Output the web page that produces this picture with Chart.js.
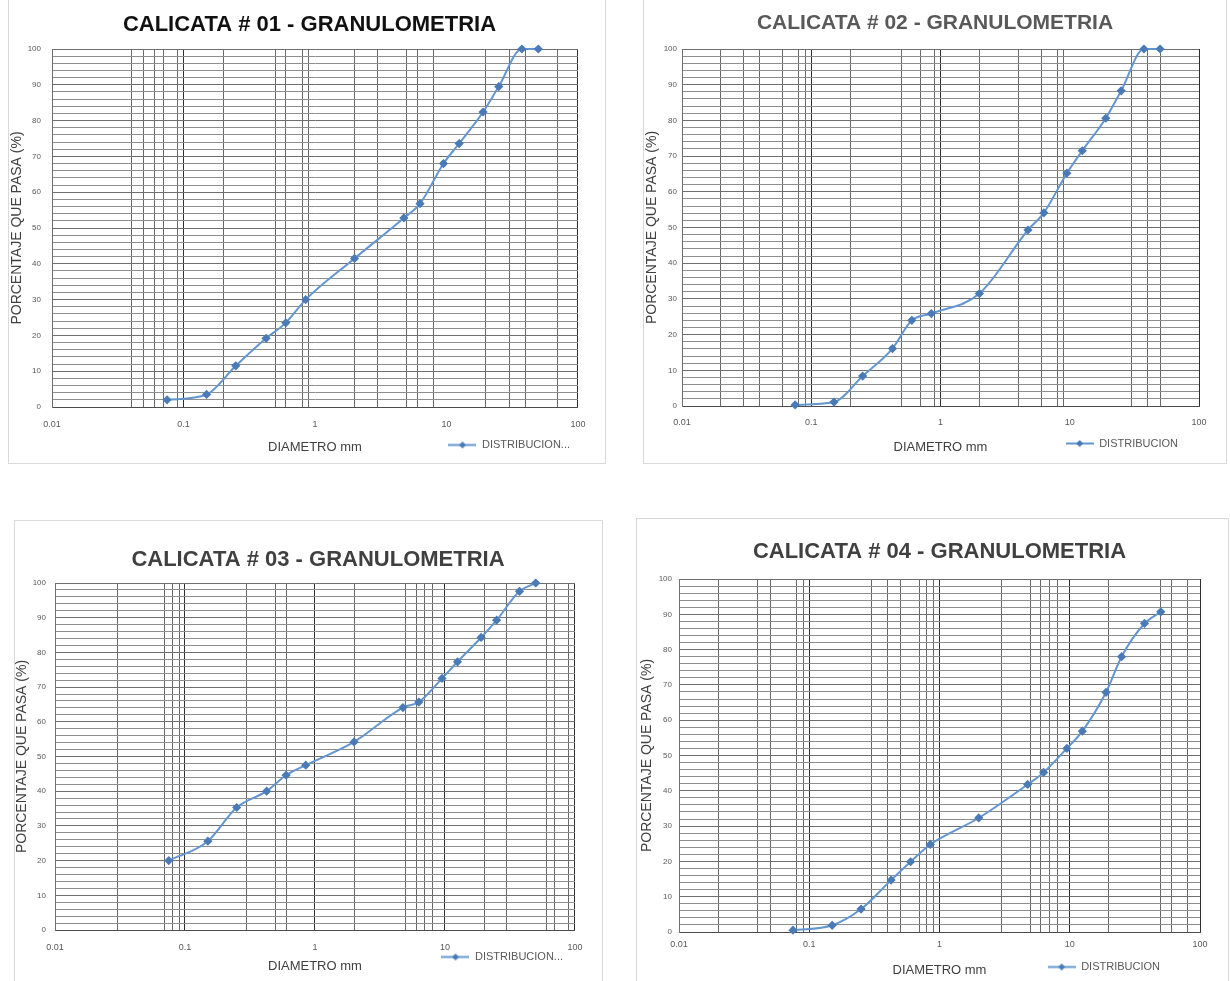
<!DOCTYPE html>
<html>
<head>
<meta charset="utf-8">
<script src="https://cdn.jsdelivr.net/npm/chart.js@4.4.1/dist/chart.umd.min.js"></script>
<style>
  html, body { margin: 0; padding: 0; background: #ffffff; }
  body { width: 1230px; height: 981px; position: relative; overflow: hidden; }
  .panel { position: absolute; border: 1px solid #d9d9d9; box-sizing: border-box; }
  canvas { position: absolute; }
</style>
</head>
<body>
<div class="panel" style="left:8px;top:-1px;width:598px;height:465px"></div>
<div class="panel" style="left:643px;top:-1px;width:584px;height:465px"></div>
<div class="panel" style="left:14px;top:520px;width:589px;height:470px"></div>
<div class="panel" style="left:636px;top:518px;width:593px;height:470px"></div>
<canvas id="c1"></canvas>
<canvas id="c2"></canvas>
<canvas id="c3"></canvas>
<canvas id="c4"></canvas>
<script>
// ---------------- DATA ----------------
const diam1 = [0.075, 0.15, 0.25, 0.425, 0.6, 0.85, 2, 4.75, 6.3, 9.5, 12.5, 19, 25, 37.5, 50];
const pass1 = [2, 3.5, 11.5, 19.2, 23.5, 30, 41.5, 52.8, 56.8, 68, 73.6, 82.4, 89.5, 100, 100];

const diam2 = [0.075, 0.15, 0.25, 0.425, 0.6, 0.85, 2, 4.75, 6.3, 9.5, 12.5, 19, 25, 37.5, 50];
const pass2 = [0.3, 1.1, 8.4, 16.1, 24, 25.9, 31.5, 49.3, 54.1, 65.2, 71.5, 80.6, 88.3, 100, 100];

const diam3 = [0.075, 0.15, 0.25, 0.425, 0.6, 0.85, 2, 4.75, 6.3, 9.5, 12.5, 19, 25, 37.5, 50];
const pass3 = [20, 25.6, 35.3, 40, 44.6, 47.5, 54.2, 64.1, 65.7, 72.5, 77.3, 84.3, 89.3, 97.6, 100];

const diam4 = [0.075, 0.15, 0.25, 0.425, 0.6, 0.85, 2, 4.75, 6.3, 9.5, 12.5, 19, 25, 37.5, 50];
const pass4 = [0.5, 1.9, 6.5, 14.7, 19.9, 24.8, 32.3, 41.8, 45.2, 52, 56.9, 67.9, 78, 87.4, 90.7];

const xTickVals = [0.01, 0.1, 1, 10, 100];
const xTickLabels = ['0.01', '0.1', '1', '10', '100'];
const yTickVals = [0, 10, 20, 30, 40, 50, 60, 70, 80, 90, 100];

// vertical grid lines visible in each chart
const xGrid1 = [0.04, 0.05, 0.06, 0.07, 0.09, 0.1, 0.2, 0.5, 0.6, 0.8, 0.9, 2, 3, 5, 6, 8, 20, 30, 40, 70, 100];
const xGrid2 = [0.02, 0.03, 0.04, 0.06, 0.08, 0.09, 0.1, 0.2, 0.5, 0.7, 0.9, 1, 2, 4, 6, 8, 9, 30, 40, 50, 100];
const xGrid3 = [0.03, 0.07, 0.08, 0.09, 0.1, 0.3, 0.5, 0.6, 1, 2, 5, 6, 7, 8, 10, 20, 30, 60, 70, 90, 100];
const xGrid4 = [0.02, 0.04, 0.05, 0.08, 0.09, 0.1, 0.3, 0.4, 0.5, 0.7, 0.8, 0.9, 1, 3, 5, 6, 7, 8, 10, 20, 50, 60, 80, 100];

const titles = ['CALICATA # 01 - GRANULOMETRIA', 'CALICATA # 02 - GRANULOMETRIA',
                'CALICATA # 03 - GRANULOMETRIA', 'CALICATA # 04 - GRANULOMETRIA'];
const legendNames = ['DISTRIBUCION...', 'DISTRIBUCION', 'DISTRIBUCION...', 'DISTRIBUCION'];
const xTitle = 'DIAMETRO mm';
const yTitle = 'PORCENTAJE QUE PASA (%)';

// ---------------- STYLE / LAYOUT ----------------
const FONT = '"Liberation Sans", Arial, Helvetica, sans-serif';
const LINE = '#6396d0';
const MARK = '#4a7bb7';
const XT_FONT = 9, YT_FONT = 8, XTITLE_FONT = 13, YTITLE_FONT = 14, LEG_FONT = 11;

// legend symbol: line with a diamond marker (Excel style)
const legendSymbol = (() => {
  const c = document.createElement('canvas');
  c.width = 28; c.height = 9;
  const g = c.getContext('2d');
  g.strokeStyle = LINE; g.lineWidth = 2;
  g.beginPath(); g.moveTo(0, 4.5); g.lineTo(28, 4.5); g.stroke();
  g.fillStyle = MARK;
  g.beginPath(); g.moveTo(14, 1); g.lineTo(17.5, 4.5); g.lineTo(14, 8); g.lineTo(10.5, 4.5); g.closePath(); g.fill();
  return c;
})();

const placePlugin = {
  id: 'place',
  afterLayout(chart, args, opts) {
    const lg = chart.legend;
    if (lg && opts.legendTop != null) {
      lg.top = opts.legendTop; lg.bottom = opts.legendTop + 40; lg.height = 40;
      lg.right = opts.legendRight; lg.left = opts.legendRight - 300; lg.width = 300;
    }
    const tb = chart.titleBlock;
    if (tb && opts.titleCX != null) {
      const w = tb.right - tb.left;
      tb.left = opts.titleCX - w / 2; tb.right = tb.left + w;
    }
  }
};

const yGridVals = [];
for (let v = 0; v <= 100; v += 2) yGridVals.push(v);

function near(a, b) { return Math.abs(a - b) < 1e-9 * Math.max(1, Math.abs(b)); }

function build(id, s, diam, pass, xGrid, titleText, legendText) {
  const lhT = s.titleSize * 1.2, lhY = YTITLE_FONT * 1.2, lhX = XTITLE_FONT * 1.2, lhTick = XT_FONT * 1.2;
  const cL = Math.round(s.yTitleCX - lhY / 2);
  const cT = Math.round(s.titleCY - 2 - lhT / 2);
  const YW = s.area.l - cL;
  const titlePadBottom = s.area.t - cT - 2 - lhT;
  const xTickPad = s.xLabelCY - s.area.b - lhTick / 2;
  const yTickPad = s.area.l - s.yLabelRight;
  const XH = s.xTitleCY + lhX / 2 - s.area.b;
  const PR = 20;
  const cW = Math.ceil(s.area.r - cL + PR);
  const PRr = cW - (s.area.r - cL);
  const cH = Math.ceil(s.area.b + XH + 1 + 4 - cT);
  const PB = cH - (s.area.b - cT) - XH - 1;

  const cv = document.getElementById(id);
  cv.width = cW; cv.height = cH;
  cv.style.left = cL + 'px'; cv.style.top = cT + 'px';
  cv.style.width = cW + 'px'; cv.style.height = cH + 'px';

  const xTicksAll = Array.from(new Set(xGrid.concat(xTickVals))).sort((a, b) => a - b);

  return new Chart(cv, {
    type: 'line',
    data: {
      datasets: [{
        label: legendText,
        data: diam.map((d, i) => ({ x: d, y: pass[i] })),
        borderColor: LINE,
        backgroundColor: LINE,
        borderWidth: 2,
        pointStyle: 'rectRot',
        pointRadius: 3.2,
        pointBackgroundColor: MARK,
        pointBorderColor: MARK,
        cubicInterpolationMode: 'monotone',
        clip: false
      }]
    },
    options: {
      responsive: false,
      animation: false,
      devicePixelRatio: 1,
      layout: { padding: { left: 0, top: 0, right: PRr, bottom: PB } },
      plugins: {
        title: {
          display: true, text: titleText, color: s.titleColor,
          font: { family: FONT, size: s.titleSize, weight: 'bold' },
          padding: { top: 2, bottom: titlePadBottom }
        },
        legend: {
          position: 'bottom', align: 'end', maxHeight: 1,
          labels: { usePointStyle: true, pointStyle: legendSymbol, pointStyleWidth: 28,
                    boxHeight: 9, padding: 10, color: '#595959',
                    font: { family: FONT, size: LEG_FONT } }
        },
        tooltip: { enabled: false },
        place: {
          legendTop: s.legendCY - 10 - LEG_FONT / 2 - cT,
          legendRight: s.legendTextRight + 10 - cL,
          titleCX: s.titleCX - cL
        }
      },
      scales: {
        x: {
          type: 'logarithmic', min: 0.01, max: 100,
          afterBuildTicks: sc => { sc.ticks = xTicksAll.map(v => ({ value: v })); },
          afterFit: sc => { sc.height = XH; },
          ticks: {
            autoSkip: false, maxRotation: 0, minRotation: 0, padding: xTickPad,
            color: '#595959', font: { family: FONT, size: XT_FONT },
            callback: v => { const i = xTickVals.findIndex(t => near(t, v)); return i >= 0 ? xTickLabels[i] : ''; }
          },
          grid: {
            drawTicks: false, lineWidth: 1,
            color: c => {
              const v = c.tick ? c.tick.value : NaN;
              if (!xGrid.some(g => near(g, v))) return 'rgba(0,0,0,0)';
              return xTickVals.some(t => near(t, v)) ? '#2e2e2e' : '#686868';
            }
          },
          border: { display: true, color: '#4d4d4d', width: 1 },
          title: { display: true, text: xTitle, color: '#404040', padding: 0,
                   font: { family: FONT, size: XTITLE_FONT } }
        },
        y: {
          type: 'linear', min: 0, max: 100,
          afterBuildTicks: sc => { sc.ticks = yGridVals.map(v => ({ value: v })); },
          afterFit: sc => { sc.width = YW; },
          ticks: {
            autoSkip: false, padding: yTickPad, color: '#595959',
            font: { family: FONT, size: YT_FONT },
            callback: v => yTickVals.includes(v) ? String(v) : ''
          },
          grid: {
            drawTicks: false, lineWidth: 1,
            color: c => (c.tick && c.tick.value % 10 === 0) ? '#6e6e6e' : '#8e8e8e'
          },
          border: { display: true, color: '#6e6e6e', width: 1 },
          title: { display: true, text: yTitle, color: '#404040', padding: 0,
                   font: { family: FONT, size: YTITLE_FONT } }
        }
      }
    },
    plugins: [placePlugin]
  });
}

const spec1 = { area: { l: 52, r: 578, t: 49, b: 407 }, titleCY: 25.5, titleCX: 309.5, titleSize: 22, titleColor: '#111111',
  yTitleCX: 17.7, yLabelRight: 41, xLabelCY: 425, xTitleCY: 447, legendCY: 445, legendTextRight: 570 };
const spec2 = { area: { l: 682, r: 1199, t: 49, b: 406 }, titleCY: 23.3, titleCX: 935, titleSize: 21, titleColor: '#595959',
  yTitleCX: 652, yLabelRight: 677, xLabelCY: 423, xTitleCY: 447, legendCY: 443.5, legendTextRight: 1178 };
const spec3 = { area: { l: 55, r: 575, t: 583, b: 930 }, titleCY: 560, titleCX: 318, titleSize: 22, titleColor: '#404040',
  yTitleCX: 22.5, yLabelRight: 46, xLabelCY: 948, xTitleCY: 966, legendCY: 957, legendTextRight: 563 };
const spec4 = { area: { l: 679, r: 1200, t: 579, b: 932 }, titleCY: 552.5, titleCX: 939.5, titleSize: 22, titleColor: '#404040',
  yTitleCX: 647.5, yLabelRight: 672, xLabelCY: 945, xTitleCY: 970, legendCY: 967, legendTextRight: 1160 };

build('c1', spec1, diam1, pass1, xGrid1, titles[0], legendNames[0]);
build('c2', spec2, diam2, pass2, xGrid2, titles[1], legendNames[1]);
build('c3', spec3, diam3, pass3, xGrid3, titles[2], legendNames[2]);
build('c4', spec4, diam4, pass4, xGrid4, titles[3], legendNames[3]);
</script>
</body>
</html>
